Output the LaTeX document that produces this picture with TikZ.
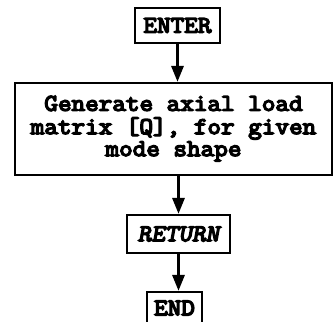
\documentclass[tikz,border=0pt]{standalone}
\usepackage{fontspec}
% heavy slab-serif typewriter faces for the box labels
\newfontfamily\typefont{Latin Modern Mono}[FakeStretch=1.1, FakeBold=6]
\newfontfamily\typefontsl{Latin Modern Mono}[FakeStretch=1.1, FakeBold=6, FakeSlant=0.18]
\usetikzlibrary{arrows.meta}

\tikzset{
  flowbox/.style={draw=black, line width=2.2pt, inner sep=0pt, align=center,
    font=\typefont\fontsize{24}{22}\selectfont},
  flowarrow/.style={line width=3pt, -{Triangle[length=16pt, width=12pt]}}
}

\begin{document}
\begin{tikzpicture}[x=1pt, y=-1pt]
  \useasboundingbox[fill=white] (0,0) rectangle (333,322);

  \node[flowbox, minimum width=85pt, minimum height=35pt] (enter) at (177.5,25.5) {ENTER};
  \node[flowbox, minimum width=317pt, minimum height=92pt] (main) at (173.5,129)
    {\raisebox{-5pt}{\begin{tabular}{@{}c@{}}Generate axial load\\matrix [Q], for given\\mode shape\end{tabular}}};
  \node[flowbox, minimum width=103pt, minimum height=38pt,
    font=\typefontsl\fontsize{24}{22}\selectfont] (ret) at (178.5,234) {RETURN};
  \node[flowbox, minimum width=55pt, minimum height=32pt] (fin) at (174.5,308) {END};

  \draw[flowarrow] (enter.south) -- (enter.south |- main.north);
  \draw[flowarrow] (ret.north |- main.south) -- (ret.north);
  \draw[flowarrow] (ret.south) -- (ret.south |- fin.north);
\end{tikzpicture}
\end{document}
